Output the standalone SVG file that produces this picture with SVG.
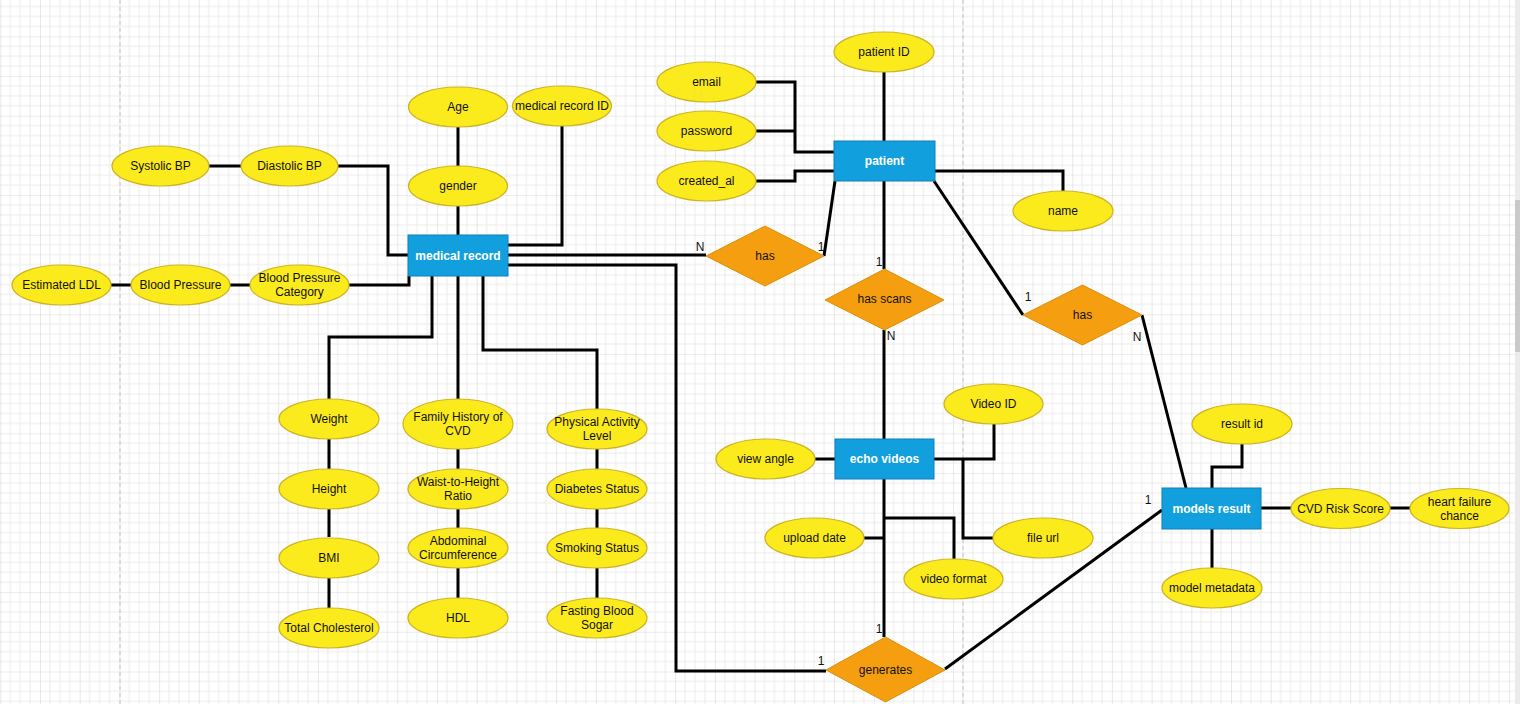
<svg xmlns="http://www.w3.org/2000/svg" width="1520" height="704" viewBox="0 0 1520 704">
<defs>
<pattern id="grid" x="0.3" y="-3.4" width="39.7" height="39.7" patternUnits="userSpaceOnUse">
<rect x="0" y="0" width="39.7" height="39.7" fill="#ffffff"/>
<path d="M9.9 0V39.7M19.85 0V39.7M29.8 0V39.7M0 9.9H39.7M0 19.85H39.7M0 29.8H39.7" stroke="#ececec" stroke-width="1" fill="none"/>
<path d="M0 0V39.7M0 0H39.7" stroke="#d9d9d9" stroke-width="1.2" fill="none"/>
</pattern>
<style>
.attr{fill:#FCEB1C;stroke:#CDB425;stroke-width:1.2}
.ent{fill:#129FDD;stroke:#0F7FC0;stroke-width:1}
.rel{fill:#F59E0F;stroke:#D9900E;stroke-width:1}
.t{font-family:"Liberation Sans",Arial,sans-serif;font-size:12px;fill:#111;text-anchor:middle;dominant-baseline:central}
.te{font-family:"Liberation Sans",Arial,sans-serif;font-size:12px;font-weight:bold;fill:#ffffff;text-anchor:middle;dominant-baseline:central}
.lbl{font-family:"Liberation Sans",Arial,sans-serif;font-size:12px;fill:#111;text-anchor:middle;dominant-baseline:central}
.c{fill:none;stroke:#000;stroke-width:3;stroke-linejoin:miter}
</style>
</defs>
<rect x="0" y="0" width="1520" height="704" fill="url(#grid)"/>
<line x1="120" y1="0" x2="120" y2="704" stroke="#c4c4c4" stroke-width="1" stroke-dasharray="4 3"/>
<line x1="963" y1="0" x2="963" y2="704" stroke="#c4c4c4" stroke-width="1" stroke-dasharray="4 3"/>
<rect x="1515" y="0" width="5" height="704" fill="#ebebeb"/>
<rect x="1515" y="200" width="5" height="152" fill="#c9c9c9"/>

<g id="connectors">
<path class="c" d="M209 166H241"/>
<path class="c" d="M338 166H388V255H408"/>
<path class="c" d="M111 285H131"/>
<path class="c" d="M230 285H250"/>
<path class="c" d="M349 285H409V276"/>
<path class="c" d="M458 127V166"/>
<path class="c" d="M458 206V235"/>
<path class="c" d="M562 126V245H508"/>
<path class="c" d="M508 255H706"/>
<path class="c" d="M508 265H676V671H826"/>
<path class="c" d="M824 256L835 181"/>
<path class="c" d="M432 276V337H329V399"/>
<path class="c" d="M458 276V399"/>
<path class="c" d="M483 276V350H597V409"/>
<path class="c" d="M329 439V469M329 509V537M329 578V608"/>
<path class="c" d="M458 449V469M458 509V529M458 568V598"/>
<path class="c" d="M597 449V469M597 509V529M597 568V605"/>
<path class="c" d="M884 72V141"/>
<path class="c" d="M756 82H795V152H834"/>
<path class="c" d="M756 131H795"/>
<path class="c" d="M756 181H795V171H834"/>
<path class="c" d="M935 171H1063V191"/>
<path class="c" d="M884 181V269"/>
<path class="c" d="M884 330V439"/>
<path class="c" d="M934 181L1023 315"/>
<path class="c" d="M1142 315L1186 488"/>
<path class="c" d="M815 459H835"/>
<path class="c" d="M934 459H994V424"/>
<path class="c" d="M963 459V538H993"/>
<path class="c" d="M884 479V637"/>
<path class="c" d="M864 538H884"/>
<path class="c" d="M884 518H954V559"/>
<path class="c" d="M945 669L1162 510"/>
<path class="c" d="M1212 488V467H1242V444"/>
<path class="c" d="M1261 508H1291"/>
<path class="c" d="M1390 508H1410"/>
<path class="c" d="M1212 529V568"/>
<text class="lbl" x="700" y="247">N</text>
<text class="lbl" x="821" y="247">1</text>
<text class="lbl" x="879" y="262">1</text>
<text class="lbl" x="891" y="336">N</text>
<text class="lbl" x="1028" y="297">1</text>
<text class="lbl" x="1137" y="337">N</text>
<text class="lbl" x="879" y="629">1</text>
<text class="lbl" x="821" y="661">1</text>
<text class="lbl" x="1148" y="500">1</text>
</g>

<g id="medical-record"><rect class="ent" x="408" y="235" width="100" height="41"/><text class="te" x="458" y="255.5">medical record</text></g>
<g id="patient"><rect class="ent" x="834" y="141" width="101" height="40"/><text class="te" x="884.5" y="161">patient</text></g>
<g id="echo-videos"><rect class="ent" x="835" y="439" width="99" height="40"/><text class="te" x="884.5" y="459">echo videos</text></g>
<g id="models-result"><rect class="ent" x="1162" y="488" width="99" height="41"/><text class="te" x="1211.5" y="508.5">models result</text></g>

<g id="rel-has-1"><polygon class="rel" points="706,256 765,226 824,256 765,286"/><text class="t" x="765" y="256">has</text></g>
<g id="rel-has-scans"><polygon class="rel" points="825,300 884.5,269 944,300 884.5,330"/><text class="t" x="884.5" y="299">has scans</text></g>
<g id="rel-has-2"><polygon class="rel" points="1023,315 1082.5,285 1142,315 1082.5,345"/><text class="t" x="1082.5" y="315">has</text></g>
<g id="rel-generates"><polygon class="rel" points="826,670 885.5,637 945,670 885.5,702"/><text class="t" x="885.5" y="670">generates</text></g>

<g id="attr-age"><ellipse class="attr" cx="458" cy="107" rx="49.5" ry="20"/><text class="t" x="458" y="107">Age</text></g>
<g id="attr-medical-record-id"><ellipse class="attr" cx="562" cy="106" rx="49.5" ry="20"/><text class="t" x="562" y="106">medical record ID</text></g>
<g id="attr-gender"><ellipse class="attr" cx="458" cy="186" rx="49.5" ry="20"/><text class="t" x="458" y="186">gender</text></g>
<g id="attr-systolic"><ellipse class="attr" cx="160.5" cy="166" rx="48.5" ry="20"/><text class="t" x="160.5" y="166">Systolic BP</text></g>
<g id="attr-diastolic"><ellipse class="attr" cx="289.5" cy="166" rx="48.5" ry="20"/><text class="t" x="289.5" y="166">Diastolic BP</text></g>
<g id="attr-ldl"><ellipse class="attr" cx="61.5" cy="285" rx="49.5" ry="20"/><text class="t" x="61.5" y="285">Estimated LDL</text></g>
<g id="attr-bp"><ellipse class="attr" cx="180.5" cy="285" rx="49.5" ry="20"/><text class="t" x="180.5" y="285">Blood Pressure</text></g>
<g id="attr-bp-category"><ellipse class="attr" cx="299.5" cy="285" rx="49.5" ry="20"/><text class="t" x="299.5" y="278">Blood Pressure</text><text class="t" x="299.5" y="292">Category</text></g>

<g id="attr-patient-id"><ellipse class="attr" cx="884" cy="52" rx="50" ry="20"/><text class="t" x="884" y="52">patient ID</text></g>
<g id="attr-email"><ellipse class="attr" cx="706.5" cy="82" rx="49.5" ry="20"/><text class="t" x="706.5" y="82">email</text></g>
<g id="attr-password"><ellipse class="attr" cx="706.5" cy="131" rx="49.5" ry="20"/><text class="t" x="706.5" y="131">password</text></g>
<g id="attr-created"><ellipse class="attr" cx="706.5" cy="181" rx="49.5" ry="20"/><text class="t" x="706.5" y="181">created_al</text></g>
<g id="attr-name"><ellipse class="attr" cx="1063" cy="211" rx="50" ry="20"/><text class="t" x="1063" y="211">name</text></g>

<g id="attr-weight"><ellipse class="attr" cx="329" cy="419" rx="50" ry="20"/><text class="t" x="329" y="419">Weight</text></g>
<g id="attr-height"><ellipse class="attr" cx="329" cy="489" rx="50" ry="20"/><text class="t" x="329" y="489">Height</text></g>
<g id="attr-bmi"><ellipse class="attr" cx="329" cy="558" rx="50" ry="20"/><text class="t" x="329" y="558">BMI</text></g>
<g id="attr-total-chol"><ellipse class="attr" cx="329" cy="628" rx="50" ry="20"/><text class="t" x="329" y="628">Total Cholesterol</text></g>

<g id="attr-family-history"><ellipse class="attr" cx="458" cy="424" rx="55" ry="25"/><text class="t" x="458" y="417">Family History of</text><text class="t" x="458" y="431">CVD</text></g>
<g id="attr-waist"><ellipse class="attr" cx="458" cy="489" rx="50" ry="20"/><text class="t" x="458" y="482">Waist-to-Height</text><text class="t" x="458" y="496">Ratio</text></g>
<g id="attr-abdominal"><ellipse class="attr" cx="458" cy="548" rx="50" ry="20"/><text class="t" x="458" y="541">Abdominal</text><text class="t" x="458" y="555">Circumference</text></g>
<g id="attr-hdl"><ellipse class="attr" cx="458" cy="618" rx="50" ry="20"/><text class="t" x="458" y="618">HDL</text></g>

<g id="attr-physical"><ellipse class="attr" cx="597" cy="429" rx="50" ry="20"/><text class="t" x="597" y="422">Physical Activity</text><text class="t" x="597" y="436">Level</text></g>
<g id="attr-diabetes"><ellipse class="attr" cx="597" cy="489" rx="50" ry="20"/><text class="t" x="597" y="489">Diabetes Status</text></g>
<g id="attr-smoking"><ellipse class="attr" cx="597" cy="548" rx="50" ry="20"/><text class="t" x="597" y="548">Smoking Status</text></g>
<g id="attr-fasting"><ellipse class="attr" cx="597" cy="618" rx="50" ry="20"/><text class="t" x="597" y="611">Fasting Blood</text><text class="t" x="597" y="625">Sogar</text></g>

<g id="attr-video-id"><ellipse class="attr" cx="993.5" cy="404" rx="49.5" ry="20"/><text class="t" x="993.5" y="404">Video ID</text></g>
<g id="attr-view-angle"><ellipse class="attr" cx="765.5" cy="459" rx="49.5" ry="20"/><text class="t" x="765.5" y="459">view angle</text></g>
<g id="attr-upload-date"><ellipse class="attr" cx="814.5" cy="538" rx="49.5" ry="20"/><text class="t" x="814.5" y="538">upload date</text></g>
<g id="attr-file-url"><ellipse class="attr" cx="1043" cy="538" rx="50" ry="20"/><text class="t" x="1043" y="538">file url</text></g>
<g id="attr-video-format"><ellipse class="attr" cx="953.5" cy="579" rx="49.5" ry="20"/><text class="t" x="953.5" y="579">video format</text></g>

<g id="attr-result-id"><ellipse class="attr" cx="1242" cy="424" rx="50" ry="20"/><text class="t" x="1242" y="424">result id</text></g>
<g id="attr-cvd-risk"><ellipse class="attr" cx="1340.5" cy="508.5" rx="49.5" ry="20"/><text class="t" x="1340.5" y="508.5">CVD Risk Score</text></g>
<g id="attr-heart-failure"><ellipse class="attr" cx="1459.5" cy="508.5" rx="49.5" ry="20"/><text class="t" x="1459.5" y="501.5">heart failure</text><text class="t" x="1459.5" y="515.5">chance</text></g>
<g id="attr-model-metadata"><ellipse class="attr" cx="1212" cy="588" rx="50" ry="20"/><text class="t" x="1212" y="588">model metadata</text></g>
</svg>
